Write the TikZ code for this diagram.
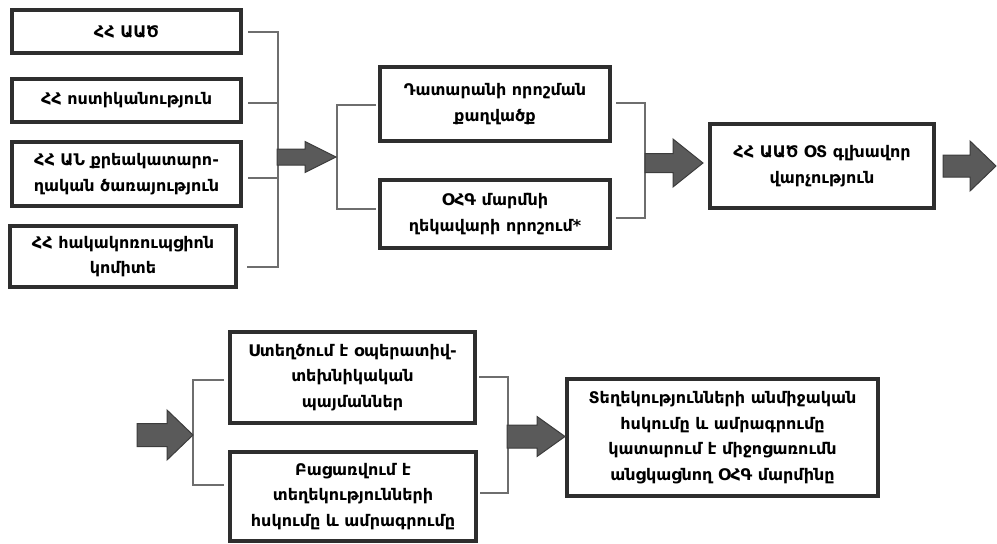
\documentclass[tikz,border=0pt]{standalone}
\usepackage{fontspec}
\setmainfont{DejaVu Sans}
\definecolor{boxc}{HTML}{2E2E2E}
\definecolor{linkc}{HTML}{6E6E6E}
\definecolor{arrowc}{HTML}{5A5A5A}
\definecolor{arrowedge}{HTML}{3C3C3C}
\newcommand\blockarrow[6]{%
  \draw[barrow] ({#1},{#4-#5}) -- ({#2},{#4-#5}) -- ({#2},{#4-#6}) -- ({#3},{#4})
    -- ({#2},{#4+#6}) -- ({#2},{#4+#5}) -- ({#1},{#4+#5}) -- cycle;}
\begin{document}
\begin{tikzpicture}[x=1pt,y=-1pt,
  box/.style={draw=boxc, line width=4pt, fill=white, align=center,
    font=\bfseries\fontsize{16}{25.5}\selectfont, inner sep=0pt},
  link/.style={draw=linkc, line width=2pt},
  barrow/.style={fill=arrowc, draw=arrowedge, line width=1pt, line join=miter}]
\useasboundingbox (0,0) rectangle (997,544);
% left column
\node[box, minimum width=229pt, minimum height=43pt] (n1) at (126.5,31.5) {ՀՀ ԱԱԾ};
\node[box, minimum width=229pt, minimum height=43pt] (n2) at (126.5,100.5) {ՀՀ ոստիկանություն};
\node[box, minimum width=229pt, minimum height=64pt] (n3) at (126.5,174) {ՀՀ ԱՆ քրեակատարո-\\ղական ծառայություն};
\node[box, minimum width=226pt, minimum height=61pt] (n4) at (123,256.5) {ՀՀ հակակոռուպցիոն\\կոմիտե};
% middle
\node[box, minimum width=230pt, minimum height=74pt] (n5) at (495,104) {Դատարանի որոշման\\քաղվածք};
\node[box, minimum width=230pt, minimum height=68pt] (n6) at (495,214) {ՕՀԳ մարմնի\\ղեկավարի որոշում*};
\node[box, minimum width=224pt, minimum height=84pt] (n7) at (822,166) {ՀՀ ԱԱԾ ՕՏ գլխավոր\\վարչություն};
% bottom
\node[box, minimum width=245pt, minimum height=91pt] (n8) at (352.5,377.5) {Ստեղծում է օպերատիվ-\\տեխնիկական\\պայմաններ};
\node[box, minimum width=246pt, minimum height=89pt] (n9) at (353,496.5) {Բացառվում է\\տեղեկությունների\\հսկումը և ամրագրումը};
\node[box, minimum width=311pt, minimum height=117pt] (n10) at (722.5,437.5) {Տեղեկությունների անմիջական\\հսկումը և ամրագրումը\\կատարում է միջոցառումն\\անցկացնող ՕՀԳ մարմինը};
% bracket 1
\coordinate (L1) at (278,32);
\coordinate (L2) at (278,103);
\coordinate (L3) at (278,178);
\coordinate (L4) at (278,267);
\draw[link] ([xshift=5pt]n1.east |- L1) -- (L1) -- (L4) -- ([xshift=9pt]n4.east |- L4);
\draw[link] ([xshift=5pt]n2.east |- L2) -- (L2);
\draw[link] ([xshift=5pt]n3.east |- L3) -- (L3);
% bracket 2
\coordinate (M1) at (337,105);
\coordinate (M2) at (337,209);
\draw[link] ([xshift=-2pt]n5.west |- M1) -- (M1) -- (M2) -- ([xshift=-2pt]n6.west |- M2);
\coordinate (R1) at (645,103);
\coordinate (R2) at (645,218);
\draw[link] ([xshift=4pt]n5.east |- R1) -- (R1) -- (R2) -- ([xshift=4pt]n6.east |- R2);
% bottom brackets
\coordinate (B1) at (193,380);
\coordinate (B2) at (193,485);
\draw[link] ([xshift=-4pt]n8.west |- B1) -- (B1) -- (B2) -- ([xshift=-4pt]n9.west |- B2);
\coordinate (C1) at (508,377);
\coordinate (C2) at (508,493);
\draw[link] ([xshift=2pt]n8.east |- C1) -- (C1) -- (C2) -- ([xshift=2pt]n9.east |- C2);
% block arrows
\blockarrow{277}{305}{336}{157}{8}{15.5}
\blockarrow{645}{673}{703}{163}{9.5}{24}
\blockarrow{943}{970}{996}{166}{11}{25}
\blockarrow{137}{167}{193}{435}{11.5}{25}
\blockarrow{507}{537}{565}{436.5}{11.5}{20}
\end{tikzpicture}
\end{document}
